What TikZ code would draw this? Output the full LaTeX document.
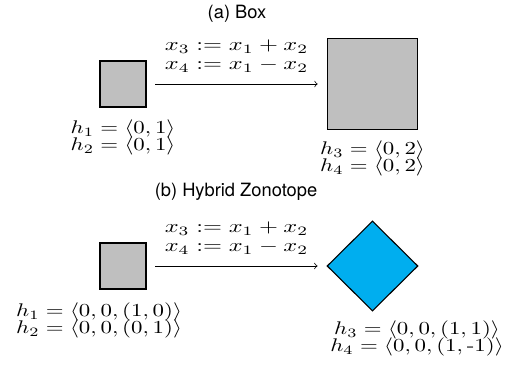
\documentclass[tikz,border=0pt]{standalone}
\usepackage{fontspec}
\usepackage{graphicx}
\usetikzlibrary{shapes.geometric, positioning}
\newfontfamily\headfont{TeX Gyre Heros}
\definecolor{zonocyan}{RGB}{0,174,239}
\newcommand{\wide}[2][1.25]{\scalebox{#1}[1]{#2}}
\tikzstyle{paneltitle} = [
    font=\headfont,
    inner sep=0pt
]
\tikzstyle{smallbox} = [
    rectangle,
    minimum size=25.1pt,
    inner sep=0pt,
    fill=lightgray,
    draw=black,
    semithick
]
\tikzstyle{bigbox} = [
    rectangle,
    minimum size=49.5pt,
    inner sep=0pt,
    fill=lightgray,
    draw=black,
    semithick
]
\tikzstyle{zonotope} = [
    diamond,
    minimum width=49.7pt,
    minimum height=49.2pt,
    inner sep=0pt,
    fill=zonocyan,
    draw=black,
    semithick
]
\tikzstyle{maplabel} = [
    align=center,
    inner sep=0pt,
    font={\fontsize{10}{10.7}\selectfont}
]
\tikzstyle{hlabel} = [
    align=center,
    inner sep=0pt,
    font={\fontsize{10}{9.3}\selectfont\lineskiplimit=-\maxdimen}
]
\tikzstyle{arrow} = [->, shorten <=4.9pt, shorten >=4.9pt]

\begin{document}
\begin{tikzpicture}[x=0.5464pt, y=0.5464pt]
\useasboundingbox (0,0) rectangle (513,366);

% (a) box domain
\node (titleA) [paneltitle] at (237,352) {(a) Box};

\node (boxA) [smallbox] at (123,282) {};
\node (bigA) [bigbox] at (372.5,282) {};

\draw [arrow] (boxA) -- node[maplabel, above=6pt]
{\wide[1.33]{$x_3 := x_1 + x_2$}\\ \wide[1.33]{$x_4 := x_1 - x_2$}} (bigA);

\node (lblA1) [hlabel, below=6.6pt of boxA]
{\wide{$h_1 = \langle 0, 1\rangle$}\\ \wide{$h_2 = \langle 0, 1\rangle$}};

\node (lblA2) [hlabel, below=6pt of bigA]
{\wide{$h_3 = \langle 0, 2\rangle$}\\ \wide{$h_4 = \langle 0, 2\rangle$}};

% (b) hybrid zonotope domain
\node (titleB) [paneltitle] at (236,174) {(b) Hybrid Zonotope};

\node (boxB) [smallbox] at (123,100) {};
\node (zonoB) [zonotope] at (372.5,100) {};

\draw [arrow] (boxB) -- node[maplabel, above=6pt]
{\wide[1.33]{$x_3 := x_1 + x_2$}\\ \wide[1.33]{$x_4 := x_1 - x_2$}} (zonoB);

\node (lblB1) [hlabel, below=7.1pt of boxB, xshift=-13.1pt]
{\wide{$h_1 = \langle 0, 0, (1, 0)\rangle$}\\ \wide{$h_2 = \langle 0, 0, (0, 1)\rangle$}};

\node (lblB2) [hlabel, below=4.9pt of zonoB, xshift=24.3pt]
{\wide{$h_3 = \langle 0, 0, (1, 1)\rangle$}\\ \wide{$h_4 = \langle 0, 0, (1, \mbox{-}1)\rangle$}};

\end{tikzpicture}
\end{document}
